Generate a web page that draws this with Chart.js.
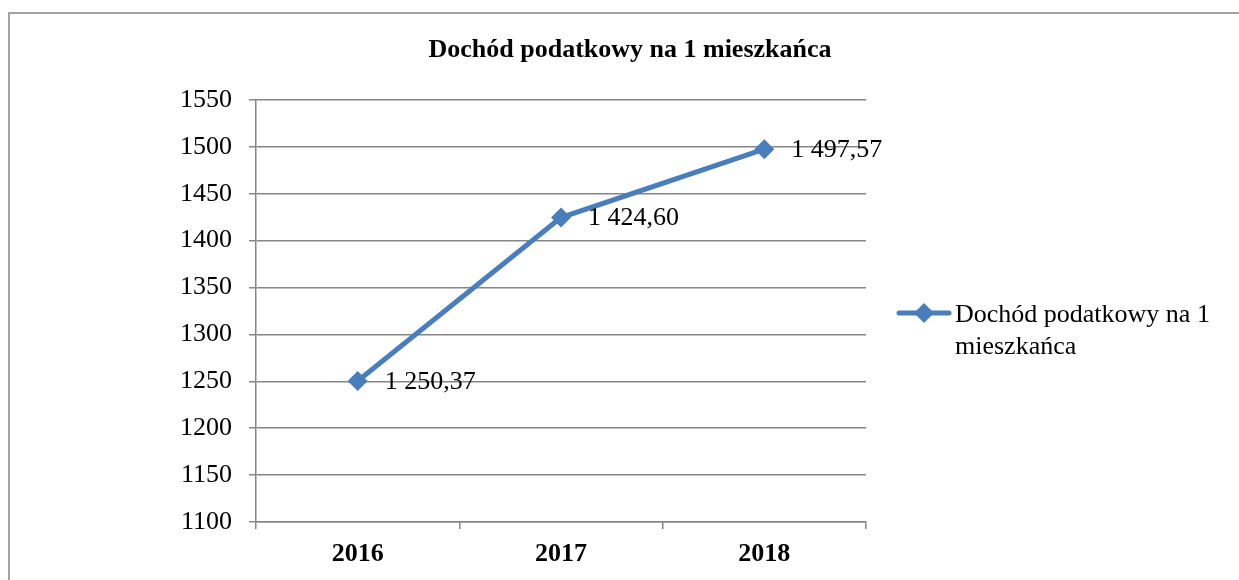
<!DOCTYPE html>
<html lang="pl">
<head>
<meta charset="utf-8">
<title>Dochód podatkowy na 1 mieszkańca</title>
<script src="https://cdn.jsdelivr.net/npm/chart.js@4/dist/chart.umd.min.js"></script>
<style>
    html, body { margin: 0; padding: 0; background: #fff; }
    #wrap { position: relative; width: 1239px; height: 580px; }
</style>
</head>
<body>
<div id="wrap"><canvas id="wykres"></canvas></div>
<script>
// dane
const lata = ['2016', '2017', '2018'];
const dochod = [1250.37, 1424.60, 1497.57];
const nazwaSerii = 'Dochód podatkowy na 1 mieszkańca';
const osY = { min: 1100, max: 1550, krok: 50 };

const niebieski = '#4a7ebb';
const szary = '#868686';
const czcionka = '"Liberation Serif", "Times New Roman", serif';

function formatPL(v) {
    const [c, d] = v.toFixed(2).split('.');
    return c.replace(/\B(?=(\d{3})+(?!\d))/g, ' ') + ',' + d;
}

// ramka, tytul, etykiety danych i legenda rysowane recznie
const dodatki = {
    id: 'dodatki',
    beforeDraw(chart) {
        const ctx = chart.ctx;
        ctx.save();
        ctx.strokeStyle = szary;
        ctx.lineWidth = 1.5;
        ctx.strokeRect(9, 13, 1400, 800);
        ctx.restore();
    },
    afterDraw(chart) {
        const ctx = chart.ctx;
        ctx.save();
        ctx.fillStyle = '#000';
        ctx.textBaseline = 'middle';

        // tytul
        ctx.font = 'bold 26px ' + czcionka;
        ctx.textAlign = 'center';
        ctx.fillText(nazwaSerii, 630, 50);

        // etykiety danych
        ctx.font = '26px ' + czcionka;
        ctx.textAlign = 'left';
        const meta = chart.getDatasetMeta(0);
        meta.data.forEach((pt, i) => {
            ctx.fillText(formatPL(dochod[i]), pt.x + 27, pt.y + 1);
        });

        // legenda
        const ly = 313;
        ctx.strokeStyle = niebieski;
        ctx.lineWidth = 5;
        ctx.lineCap = 'round';
        ctx.beginPath();
        ctx.moveTo(899, ly);
        ctx.lineTo(949, ly);
        ctx.stroke();
        ctx.fillStyle = niebieski;
        ctx.beginPath();
        ctx.moveTo(924 - 10, ly);
        ctx.lineTo(924, ly - 10);
        ctx.lineTo(924 + 10, ly);
        ctx.lineTo(924, ly + 10);
        ctx.closePath();
        ctx.fill();
        ctx.fillStyle = '#000';
        ctx.font = '26px ' + czcionka;
        ctx.fillText('Dochód podatkowy na 1', 955, 315);
        ctx.fillText('mieszkańca', 955, 347);
        ctx.restore();
    }
};

new Chart(document.getElementById('wykres').getContext('2d'), {
    type: 'line',
    data: {
        labels: lata,
        datasets: [{
            label: nazwaSerii,
            data: dochod,
            borderColor: niebieski,
            backgroundColor: niebieski,
            borderWidth: 5,
            pointStyle: 'rectRot',
            pointRadius: 10,
            pointBorderWidth: 0,
            pointBackgroundColor: niebieski,
            tension: 0
        }]
    },
    options: {
        responsive: true,
        maintainAspectRatio: false,
        animation: false,
        layout: {
            padding: { left: 0, top: 100, right: 373, bottom: 0 }
        },
        plugins: {
            legend: { display: false },
            title: { display: false },
            tooltip: { enabled: false }
        },
        scales: {
            x: {
                offset: true,
                afterFit(s) { s.height = 58; },
                grid: {
                    offset: true,
                    drawOnChartArea: false,
                    drawTicks: true,
                    tickLength: 7,
                    color: szary,
                    lineWidth: 1.5
                },
                border: { display: true, color: szary, width: 1.5 },
                ticks: {
                    color: '#000',
                    padding: 10,
                    font: { family: czcionka, size: 26, weight: 'bold' }
                }
            },
            y: {
                min: osY.min,
                max: osY.max,
                afterFit(s) { s.width = 256; },
                grid: {
                    color: szary,
                    lineWidth: 1.5,
                    tickLength: 7
                },
                border: { display: true, color: szary, width: 1.5 },
                ticks: {
                    stepSize: osY.krok,
                    color: '#000',
                    padding: 17,
                    font: { family: czcionka, size: 26 },
                    callback: (v) => String(v)
                }
            }
        }
    },
    plugins: [dodatki]
});
</script>
</body>
</html>
